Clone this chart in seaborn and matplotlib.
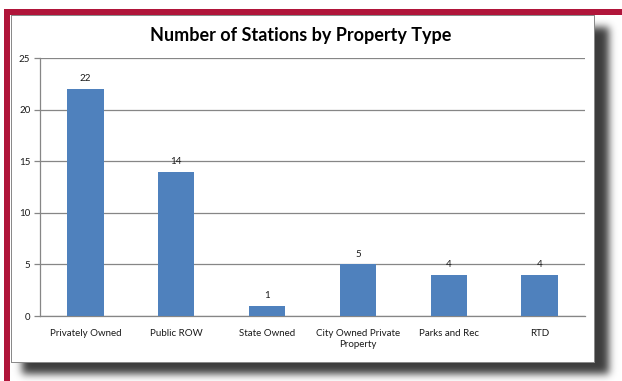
import numpy as np
import pandas as pd
import matplotlib
matplotlib.use("Agg")
import matplotlib.pyplot as plt
import seaborn as sns

# Chart data
categories = ["Privately Owned", "Public ROW", "State Owned",
              "City Owned Private\nProperty", "Parks and Rec", "RTD"]
stations = [22, 14, 1, 5, 4, 4]
y_ticks = [0, 5, 10, 15, 20, 25]
title = "Number of Stations by Property Type"

W, H, DPI = 622, 381, 100
BAR_COLOR = "#4F81BD"
GRID_COLOR = "#868686"
CRIMSON = "#B0153A"

sns.set_theme(style="white")
plt.rcParams["font.family"] = ["Lato", "DejaVu Sans"]

fig = plt.figure(figsize=(W / DPI, H / DPI), dpi=DPI)

# ---- page decoration: crimson frame, soft drop shadow, white chart box ----
def gaussian_blur(img, sigma):
    r = int(3 * sigma)
    k = np.exp(-0.5 * (np.arange(-r, r + 1) / sigma) ** 2)
    k /= k.sum()
    pad = np.pad(img, r, mode="edge")
    tmp = np.apply_along_axis(lambda v: np.convolve(v, k, mode="valid"), 1, pad)
    return np.apply_along_axis(lambda v: np.convolve(v, k, mode="valid"), 0, tmp)

bg = np.ones((H, W, 3))
mask = np.zeros((H, W))
mask[27:374, 22:609] = 1.0
mask = gaussian_blur(mask, 4.0)
bg *= (1 - 0.76 * mask)[..., None]

crimson = np.array(matplotlib.colors.to_rgb(CRIMSON))
bg[9:15, 4:] = crimson
bg[9:, 4:10] = crimson

# chart box
box_l, box_r, box_t, box_b = 11, 594, 15, 362
bg[box_t:box_b + 1, box_l:box_r + 1] = 1.0
edge = np.array(matplotlib.colors.to_rgb("#8a8a8a"))
bg[box_t, box_l:box_r + 1] = edge
bg[box_b, box_l:box_r + 1] = edge
bg[box_t:box_b + 1, box_l] = edge
bg[box_t:box_b + 1, box_r] = edge

bg_ax = fig.add_axes([0, 0, 1, 1], zorder=-10)
bg_ax.imshow(bg, aspect="auto", interpolation="nearest")
bg_ax.set_axis_off()

# ---- bar chart ----
ax_left, ax_right, ax_top, ax_bottom = 40, 585, 58, 316
ax = fig.add_axes([ax_left / W, 1 - ax_bottom / H,
                   (ax_right - ax_left) / W, (ax_bottom - ax_top) / H])

df = pd.DataFrame({"category": categories, "stations": stations})
sns.barplot(data=df, x="category", y="stations", color=BAR_COLOR,
            saturation=1, width=0.4, linewidth=0, ax=ax, zorder=3)

for container in ax.containers:
    ax.bar_label(container, labels=[str(v) for v in stations], padding=4,
                 fontsize=7, color="#1a1a1a")

ax.set_ylim(0, 25)
ax.set_xlim(-0.5, len(categories) - 0.5)
ax.set_yticks(y_ticks)
ax.set_xlabel("")
ax.set_ylabel("")
ax.yaxis.grid(True, color=GRID_COLOR, linewidth=0.9, zorder=0)
ax.set_axisbelow(True)

for side in ("top", "right"):
    ax.spines[side].set_visible(False)
for side in ("left", "bottom"):
    ax.spines[side].set_color(GRID_COLOR)
    ax.spines[side].set_linewidth(0.9)

ax.set_xticks(np.arange(-0.5, len(categories), 1.0), minor=True)
ax.tick_params(axis="x", which="major", length=0, pad=9, labelsize=7,
               labelcolor="#1a1a1a")
ax.tick_params(axis="x", which="minor", length=4, width=0.9,
               color=GRID_COLOR, direction="out")
ax.tick_params(axis="y", length=4, width=0.9, color=GRID_COLOR,
               direction="out", left=True, pad=3, labelsize=7,
               labelcolor="#1a1a1a")
for lbl in ax.get_xticklabels():
    lbl.set_linespacing(1.4)
    lbl.set_verticalalignment("top")
ax.set_facecolor("white")

fig.text(301 / W, 1 - 36 / H, title, ha="center", va="center",
         fontsize=13, fontweight="bold", color="black")

fig.savefig("out.png", dpi=DPI)
